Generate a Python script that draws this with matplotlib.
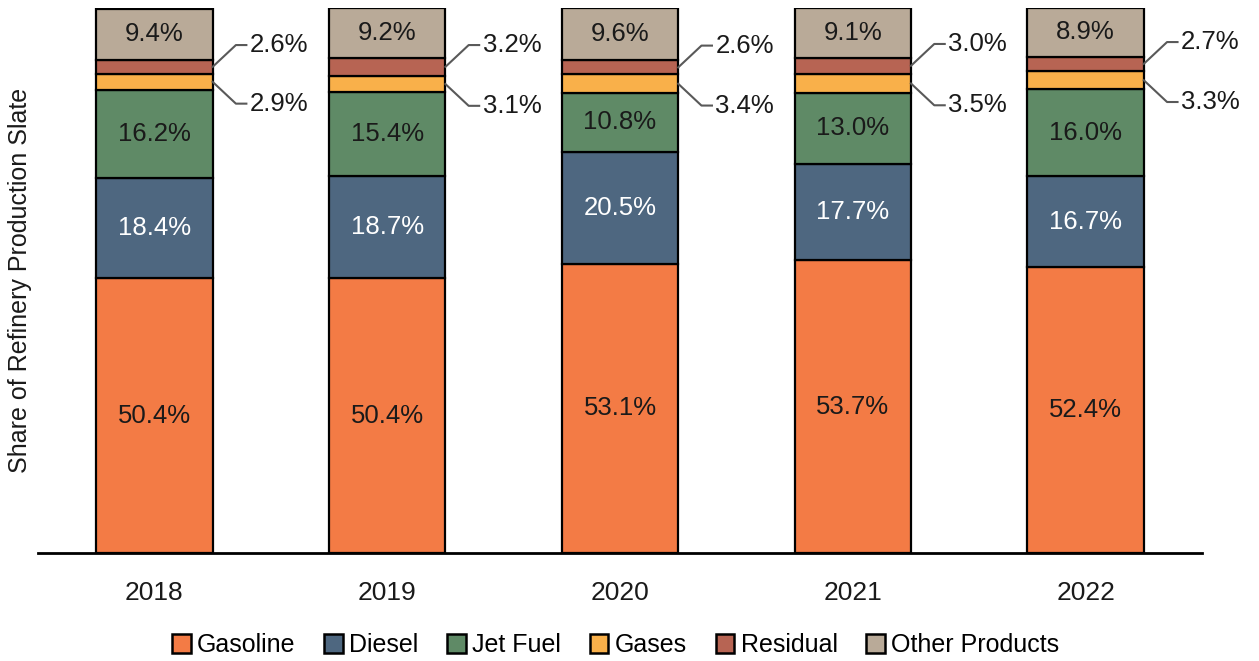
import numpy as np
import matplotlib.pyplot as plt

plt.rcParams['font.family'] = ['Liberation Sans', 'DejaVu Sans']

years = ['2018', '2019', '2020', '2021', '2022']
products = ['Gasoline', 'Diesel', 'Jet Fuel', 'Gases', 'Residual', 'Other Products']

gasoline = [50.4, 50.4, 53.1, 53.7, 52.4]
diesel = [18.4, 18.7, 20.5, 17.7, 16.7]
jet_fuel = [16.2, 15.4, 10.8, 13.0, 16.0]
gases = [2.9, 3.1, 3.4, 3.5, 3.3]
residual = [2.6, 3.2, 2.6, 3.0, 2.7]
other = [9.4, 9.2, 9.6, 9.1, 8.9]

colors = ['#F37B45', '#4E6780', '#5F8A66', '#F9B04A', '#B76453', '#B9AA98']
text_colors = ['#1a1a1a', 'white', '#1a1a1a', None, None, '#1a1a1a']

series = [gasoline, diesel, jet_fuel, gases, residual, other]

fig = plt.figure(figsize=(12.59, 6.61), dpi=100)
ax = fig.add_axes([0.0302, 0.1634, 0.9245, 0.8245])

x = np.arange(len(years))
width = 0.5
bottom = np.zeros(len(years))
bars = []
for name, vals, col, tc in zip(products, series, colors, text_colors):
    vals = np.array(vals)
    b = ax.bar(x, vals, width, bottom=bottom, color=col, edgecolor='black',
               linewidth=1.6, label=name)
    bars.append(b)
    if tc is not None:
        for xi, v, b0 in zip(x, vals, bottom):
            ax.text(xi, b0 + v / 2, f'{v:.1f}%', ha='center', va='center',
                    fontsize=18.5, color=tc)
    bottom = bottom + vals

# leader-line labels for the thin segments (gases below, residual above)
base = np.array(gasoline) + np.array(diesel) + np.array(jet_fuel)
for i, xi in enumerate(x):
    edge = xi + width / 2
    g_mid = base[i] + gases[i] / 2
    r_mid = base[i] + gases[i] + residual[i] / 2
    for mid, val, dy in [(r_mid, residual[i], 4.0), (g_mid, gases[i], -4.0)]:
        ax.plot([edge, edge + 0.1, edge + 0.145], [mid, mid + dy, mid + dy],
                color='#595959', linewidth=1.5, clip_on=False)
        ax.text(edge + 0.16, mid + dy, f'{val:.1f}%', ha='left', va='center',
                fontsize=18.5, color='#1a1a1a')

ax.set_xlim(-0.5, 4.5)
ax.set_ylim(0, 100)
ax.set_xticks(x)
ax.set_xticklabels(years, fontsize=19, color='#1a1a1a')
ax.tick_params(axis='x', length=0, pad=20)
ax.set_yticks([])
for s in ['top', 'right', 'left']:
    ax.spines[s].set_visible(False)
ax.spines['bottom'].set_linewidth(2)
ax.set_ylabel('Share of Refinery Production Slate', fontsize=18,
              color='#1a1a1a', labelpad=4)

leg = fig.legend(handles=bars, labels=products, loc='center', ncol=6,
                 bbox_to_anchor=(0.489, 0.024), frameon=False, fontsize=18,
                 handlelength=0.75, handleheight=0.75, handletextpad=0.25,
                 columnspacing=1.15)
for h in leg.legend_handles:
    h.set_linewidth(1.8)

fig.savefig('out.png', dpi=100)
